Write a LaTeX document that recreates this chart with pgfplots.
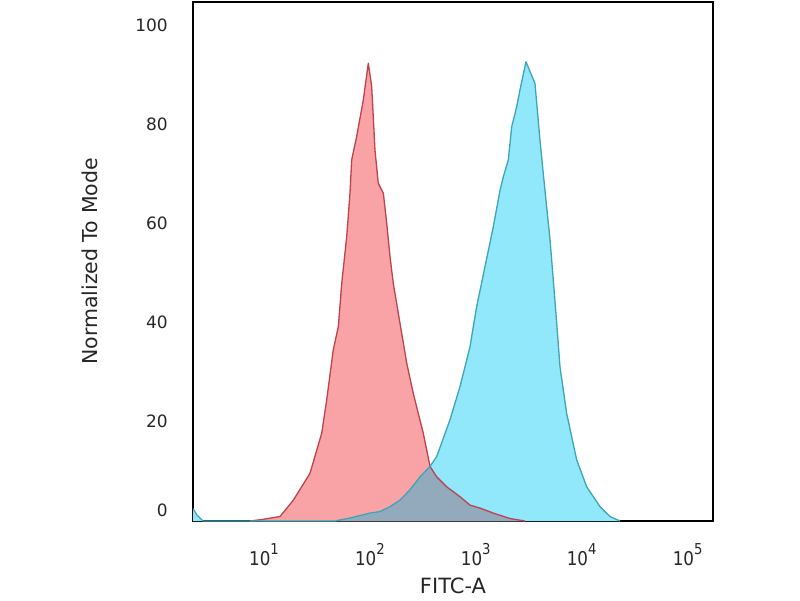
\documentclass[border=0pt]{standalone}
\usepackage{fontspec}
\setmainfont{DejaVu Sans}
\usepackage{pgfplots}
\usepackage{pgfplotstable}
\pgfplotsset{compat=1.18}

\definecolor{redfill}{RGB}{249,163,166}
\definecolor{redline}{RGB}{190,66,78}
\definecolor{bluefill}{RGB}{144,232,250}
\definecolor{blueline}{RGB}{60,165,182}
\definecolor{overlapfill}{RGB}{147,170,189}

% x = log10(FITC-A), y = normalized to mode
\pgfplotstableread{
x y
0.868 0
0.981 0.3
1.151 0.9
1.277 4.2
1.434 9.6
1.545 17.7
1.592 24.4
1.654 34.5
1.702 39.2
1.734 47.9
1.781 57.3
1.812 66.1
1.828 72.8
1.875 77.5
1.938 84.9
1.985 92.3
2.017 87.6
2.048 74.8
2.079 68.1
2.127 66.1
2.159 60.0
2.190 53.3
2.221 47.9
2.284 39.9
2.348 31.8
2.410 25.7
2.504 17.7
2.568 11.0
2.631 8.9
2.725 6.9
2.851 4.9
2.945 3.2
3.040 2.6
3.165 1.6
3.323 0.5
3.465 0
}\redtable

\pgfplotstableread{
x y
0.330 2.5
0.367 1.2
0.424 0
1.670 0
1.812 0.6
2.001 1.6
2.095 1.9
2.190 2.9
2.284 4.2
2.379 6.3
2.473 8.9
2.568 11.0
2.631 13.0
2.756 20.4
2.851 27.1
2.945 35.1
3.008 43.2
3.087 51.3
3.165 59.3
3.229 66.7
3.260 69.4
3.307 72.8
3.339 79.5
3.386 83.5
3.417 86.9
3.474 92.6
3.559 88.2
3.606 76.8
3.653 66.7
3.701 56.7
3.732 48.6
3.764 39.9
3.795 31.1
3.858 21.7
3.953 12.3
4.047 6.9
4.173 2.9
4.267 0.9
4.362 0
}\bluetable

\pgfplotstableread{
x y
1.670 0
1.812 0.6
2.001 1.6
2.095 1.9
2.190 2.9
2.284 4.2
2.379 6.3
2.473 8.9
2.568 11.0
2.631 8.9
2.725 6.9
2.851 4.9
2.945 3.2
3.040 2.6
3.165 1.6
3.323 0.5
3.465 0
}\overlaptable

\newcommand{\expo}[1]{\raisebox{11pt}{\fontsize{15}{15}\selectfont #1}}
\newcommand{\tenp}[1]{\scalebox{0.88}[1]{10\expo{#1}}}

\begin{document}
\begin{tikzpicture}[x=1pt,y=1pt]
\useasboundingbox (0,0) rectangle (800,600);
\begin{axis}[
  at={(193pt,79pt)}, anchor=south west,
  scale only axis, width=520pt, height=519pt,
  xmin=0.3296, xmax=5.240,
  ymin=0, ymax=104.64,
  axis line style={black, line width=1.8pt},
  tick style={draw=none},
  xtick={1,2,3,4,5},
  xticklabels={\tenp{1},\tenp{2},\tenp{3},\tenp{4},\tenp{5}},
  xticklabel style={font=\fontsize{19}{21}\selectfont, anchor=base, inner sep=0pt, yshift=-44pt, text=black!85},
  ytick={20,40,60,80,100},
  yticklabels={20,40,60,80,100},
  extra y ticks={0},
  extra y tick labels={0},
  extra y tick style={yticklabel style={yshift=11pt}},
  yticklabel style={font=\fontsize{17}{19}\selectfont, anchor=east, inner sep=0pt, xshift=-25pt, text=black!85},
  xlabel={FITC-A},
  xlabel style={at={(axis description cs:0.5,-0.1098)}, anchor=north, inner sep=0pt, font=\fontsize{21}{23}\selectfont, text=black!85},
  ylabel={Normalized To Mode},
  ylabel style={at={(axis description cs:-0.198,0.5)}, anchor=center, inner sep=0pt, font=\fontsize{20.5}{22}\selectfont, text=black!85},
]
\addplot[fill=redfill, draw=none] table[x=x,y=y]{\redtable} \closedcycle;
\addplot[fill=bluefill, draw=none] table[x=x,y=y]{\bluetable} \closedcycle;
\addplot[fill=overlapfill, draw=none] table[x=x,y=y]{\overlaptable} \closedcycle;
\addplot[draw=redline, line width=1.3pt, line join=round] table[x=x,y=y]{\redtable};
\addplot[draw=blueline, line width=1.3pt, line join=round] table[x=x,y=y]{\bluetable};
\end{axis}
\end{tikzpicture}
\end{document}
